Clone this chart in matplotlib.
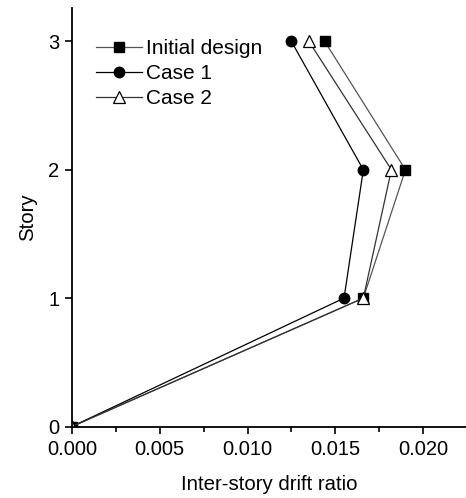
import matplotlib
matplotlib.use("Agg")
import matplotlib.pyplot as plt
from matplotlib.ticker import MultipleLocator

plt.rcParams['font.family'] = ['Liberation Sans', 'DejaVu Sans']

story = [0, 1, 2, 3]
initial_design = [0.0, 0.0166, 0.0190, 0.0144]
case1 = [0.0, 0.0155, 0.0166, 0.0125]
case2 = [0.0, 0.0166, 0.0182, 0.0135]
xticks = [0.000, 0.005, 0.010, 0.015, 0.020]
yticks = [0, 1, 2, 3]

fig = plt.figure(figsize=(4.66, 4.98), dpi=100)
ax = fig.add_axes([72/466, 1-426.5/498, 1-72/466, (426.5-8)/498])

ax.plot(initial_design, story, color='#555555', lw=0.9, marker='s', ms=7,
        mfc='black', mec='black', label='Initial design')
ax.plot(case1, story, color='black', lw=0.9, marker='o', ms=7.5,
        mfc='black', mec='black', label='Case 1')
ax.plot(case2, story, color='#333333', lw=0.9, marker='^', ms=8.5,
        mfc='white', mec='black', mew=0.9, label='Case 2')

ax.set_xlim(0, 0.02245)
ax.set_ylim(0, 3.26)
ax.set_xticks(xticks)
ax.set_xticklabels([f"{v:.3f}" for v in xticks])
ax.set_yticks(yticks)
ax.xaxis.set_minor_locator(MultipleLocator(0.0025))
ax.tick_params(axis='both', which='major', direction='out', length=5, width=1.2,
               labelsize=14.5)
ax.tick_params(axis='x', which='major', pad=5)
ax.tick_params(axis='y', which='major', pad=4)
ax.tick_params(axis='x', which='minor', direction='out', length=3.5, width=1.2)

for s in ['top', 'right']:
    ax.spines[s].set_visible(False)
for s in ['left', 'bottom']:
    ax.spines[s].set_linewidth(1.3)

ax.set_xlabel('Inter-story drift ratio', fontsize=14.7, labelpad=11)
ax.set_ylabel('Story', fontsize=14.7, labelpad=8)

leg = ax.legend(loc='upper left', bbox_to_anchor=(0.04, 0.945), frameon=False,
                fontsize=15, handlelength=2.2, handletextpad=0.2,
                labelspacing=0.28, borderaxespad=0)

fig.savefig('out.png', dpi=100)
